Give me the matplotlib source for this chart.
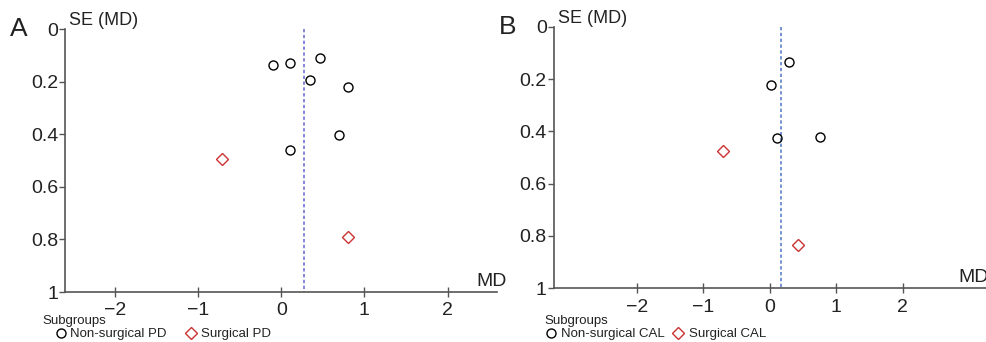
import matplotlib.pyplot as plt

plt.rcParams["font.family"] = ["Liberation Sans", "DejaVu Sans"]

# panel A: probing depth
a_ns_md = [-0.10, 0.10, 0.46, 0.35, 0.80, 0.69, 0.10]
a_ns_se = [0.137, 0.130, 0.110, 0.194, 0.220, 0.404, 0.461]
a_s_md = [-0.71, 0.80]
a_s_se = [0.494, 0.790]
a_pooled = 0.27

# panel B: clinical attachment level
b_ns_md = [0.29, 0.01, 0.10, 0.75]
b_ns_se = [0.136, 0.223, 0.425, 0.421]
b_s_md = [-0.70, 0.43]
b_s_se = [0.476, 0.834]
b_pooled = 0.17

W, H = 987.0, 342.0

panels = [
    dict(letter="A", ns_md=a_ns_md, ns_se=a_ns_se, s_md=a_s_md, s_se=a_s_se, pooled=a_pooled,
         ns_lab="Non-surgical PD", s_lab="Surgical PD", rect=[0.066, 0.146, 0.438, 0.769],
         xlim=(-2.6, 2.6), dcol="#7272d4", md_x=476, md_y=282, sub_x=42, leg_x=54,
         htp=0.25, csp=1.35),
    dict(letter="B", ns_md=b_ns_md, ns_se=b_ns_se, s_md=b_s_md, s_se=b_s_se, pooled=b_pooled,
         ns_lab="Non-surgical CAL", s_lab="Surgical CAL", rect=[0.561, 0.157, 0.438, 0.765],
         xlim=(-3.25, 3.25), dcol="#5b80c8", md_x=958, md_y=278, sub_x=544, leg_x=544,
         htp=0.3, csp=0.5),
]

fig = plt.figure(figsize=(W / 100, H / 100), dpi=100)
axis_col = "#555555"
txt_col = "#222222"

for p in panels:
    rect = p["rect"]
    ax = fig.add_axes(rect)
    ax.plot([p["pooled"], p["pooled"]], [0, 1], color=p["dcol"], linestyle=(0, (2, 1.5)),
            linewidth=1.2)
    h1, = ax.plot(p["ns_md"], p["ns_se"], "o", markersize=6.5, markerfacecolor="none",
                  markeredgecolor="black", markeredgewidth=1.0, linestyle="none",
                  label=p["ns_lab"])
    h2, = ax.plot(p["s_md"], p["s_se"], "D", markersize=6.5, markerfacecolor="none",
                  markeredgecolor="#cc3333", markeredgewidth=1.0, linestyle="none",
                  label=p["s_lab"])
    ax.set_xlim(*p["xlim"])
    ax.set_ylim(1, 0)
    ax.set_xticks([-2, -1, 0, 1, 2])
    ax.set_xticklabels(["\u22122", "\u22121", "0", "1", "2"])
    ax.set_yticks([0, 0.2, 0.4, 0.6, 0.8, 1])
    ax.set_yticklabels(["0", "0.2", "0.4", "0.6", "0.8", "1"])
    for s in ["top", "right"]:
        ax.spines[s].set_visible(False)
    for s in ["left", "bottom"]:
        ax.spines[s].set_color(axis_col)
        ax.spines[s].set_linewidth(1.2)
    ax.tick_params(axis="x", direction="inout", length=7, width=1, colors=axis_col,
                   labelcolor=txt_col, labelsize=14, pad=4)
    ax.tick_params(axis="y", direction="out", length=4, width=1, colors=axis_col,
                   labelcolor=txt_col, labelsize=14, pad=1)
    ax.text(0.01, 1.0, "SE (MD)", transform=ax.transAxes, fontsize=13, color=txt_col,
            ha="left", va="bottom")
    fig.text(p["md_x"] / W, 1 - p["md_y"] / H, "MD", fontsize=14, color=txt_col,
             ha="left", va="center")
    fig.text(rect[0] - 0.056, rect[1] + rect[3], p["letter"], fontsize=19, color=txt_col,
             ha="left", va="center")
    fig.text(p["sub_x"] / W, 1 - 321 / H, "Subgroups", fontsize=9.5, color=txt_col,
             ha="left", va="center")
    leg = fig.legend(handles=[h1, h2], ncol=2, frameon=False, loc="center left",
                     bbox_to_anchor=(p["leg_x"] / W, 1 - 334 / H), borderaxespad=0,
                     fontsize=9.5, handletextpad=p["htp"], columnspacing=p["csp"],
                     borderpad=0, handlelength=1.0)
    for t in leg.get_texts():
        t.set_color(txt_col)

fig.savefig("out.png", dpi=100)
